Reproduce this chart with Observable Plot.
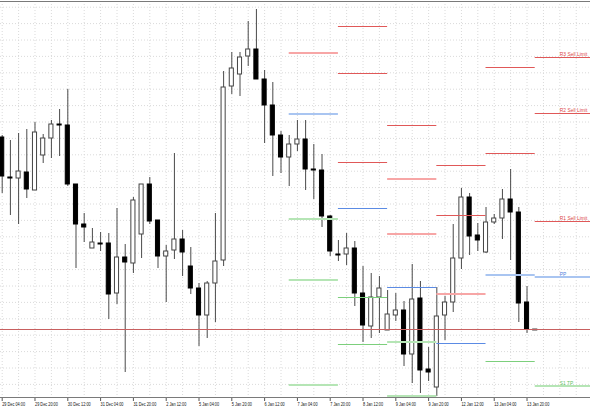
<!DOCTYPE html>
<html>
<head>
<meta charset="utf-8">
<script src="https://cdn.jsdelivr.net/npm/d3@7"></script>
<script src="https://cdn.jsdelivr.net/npm/@observablehq/plot@0.6"></script>
<style>
  html, body { margin: 0; padding: 0; background: #fff; }
  #chart svg { display: block; }
</style>
</head>
<body>
<div id="chart"></div>
<script>
// 4-hour candles, bar 0 = 29 Dec 04:00 … bar 65 = 14 Jan 00:00 (price units are relative)
const open  = [263,223,222,228,210,245,262,276,275,216,176,152,157,157,107,143,137,166,216,180,144,150,161,134,112,85,117,140,314,326,344,351,321,295,265,243,256,261,231,230,184,146,146,152,107,74,103,70,85,90,46,102,31,13,85,98,142,203,165,148,178,182,201,188,98,70];
const high  = [265,260,267,271,278,266,280,291,311,216,187,172,168,167,192,156,203,216,223,180,155,247,170,153,117,119,187,329,348,348,379,391,330,318,269,265,280,280,256,246,185,160,167,159,134,127,124,110,107,99,136,119,53,113,104,176,212,207,177,193,186,211,231,193,114,71];
const low   = [207,185,176,202,210,237,242,244,214,132,158,152,149,81,96,28,127,142,176,132,98,141,124,106,54,62,78,134,306,304,334,321,257,224,227,214,249,210,201,173,144,139,135,94,58,62,67,70,79,34,17,7,19,4,60,88,131,145,149,147,176,161,140,78,67,70];
const close = [224,222,229,211,268,262,276,275,216,176,173,158,156,106,143,138,200,216,179,144,149,161,148,112,85,117,139,313,332,343,351,321,295,265,243,256,261,231,230,184,149,145,152,107,75,103,112,86,90,46,101,30,28,84,98,142,203,164,160,178,182,201,188,97,71,71];
const bidPrice = 71;

// time axis labels, one every 4 bars
const tickLabels = ["29 Dec 04:00","29 Dec 20:00","30 Dec 12:00","31 Dec 04:00","31 Dec 20:00","2 Jan 12:00","5 Jan 04:00","5 Jan 20:00","6 Jan 12:00","7 Jan 04:00","7 Jan 20:00","8 Jan 12:00","9 Jan 04:00","9 Jan 20:00","12 Jan 12:00","13 Jan 04:00","13 Jan 20:00"];

// daily pivot sessions: bar index where each day's levels begin (7,8,9,12,13,14 Jan)
const levelDays = [35, 41, 47, 53, 59, 65];
// [day, kind, price]
const dailyLevels = [
  [1,"R",374],[1,"R",327],[1,"R",238],[1,"P",192],[1,"S",103],[1,"S",56],
  [2,"R",275],[2,"P",113],
  [3,"R",235],[3,"R",185],[3,"P",57],
  [4,"R",333],[4,"R",247],[4,"S",39],
  [5,"R",343],[5,"R",287],[5,"R",179]
];
const zoneLevels = [
  [0,"R",347.5],[0,"P",286.5],[0,"S",181.5],[0,"S",120.5],[0,"S",15.5],
  [2,"R",221.5],[2,"R",166.5],[2,"S",58.5],[2,"S",4.5],
  [3,"R",106.5],
  [4,"P",125.5],
  [5,"P",123.5],[5,"S",14.5]
];
const levelLabels = ["R3 Sell Limit","R2 Sell Limit","R1 Sell Limit","PP","S1 TP"];
const labelKinds  = ["R","R","R","P","S"];
const labelPrices = [343, 287, 179, 123.5, 14.5];

// ---------- drawing ----------
const xMin = -0.207, xMax = 71.74;
const thinColor = {R: "#e05858", P: "#5b8be4", S: "#7ccf7c"};
const paleColor = {R: "#f7a6a6", P: "#a9c5f1", S: "#b5e5b5"};
const labelColor = {R: "#dc4848", P: "#4f7fdc", S: "#66c266"};

const bars = open.map((o, i) => ({i, o, h: high[i], l: low[i], c: close[i], up: close[i] >= o}));
const dayEnd = d => (d + 1 < levelDays.length ? levelDays[d + 1] : xMax + 1);
const labels = levelLabels.map((t, k) => ({t, kind: labelKinds[k], p: labelPrices[k]}));
const tickIdx = tickLabels.map((_, k) => k * 4);

const chart = Plot.plot({
  width: 590,
  height: 410,
  marginLeft: 0,
  marginRight: 0,
  marginTop: 1,
  marginBottom: 12,
  x: {domain: [xMin, xMax], axis: null, label: null},
  y: {domain: [2, 399], axis: null, label: null},
  color: {type: "identity"},
  style: {background: "#fff", fontFamily: "'Liberation Sans', Arial, sans-serif"},
  marks: [
    Plot.ruleX(d3.range(0, 72, 2), {stroke: "#dadada", strokeDasharray: "1,2"}),
    Plot.ruleY(d3.range(393.3, 10, -16.4), {stroke: "#dadada", strokeDasharray: "1,2"}),
    Plot.ruleY([399], {stroke: "#7a7a7a"}),
    Plot.ruleX(bars, {x: "i", y1: "l", y2: "h", stroke: "#4a4a4a"}),
    Plot.rect(bars, {
      x1: d => d.i - 0.25, x2: d => d.i + 0.25,
      y1: d => Math.min(d.o, d.c), y2: d => Math.max(d.o, d.c),
      fill: d => d.up ? "#ffffff" : "#000000",
      stroke: d => d.up ? "#444444" : "#000000",
      strokeWidth: 1
    }),
    Plot.ruleY(zoneLevels, {y: d => d[2], x1: d => levelDays[d[0]], x2: d => dayEnd(d[0]), stroke: d => paleColor[d[1]], strokeWidth: 2}),
    Plot.ruleY(dailyLevels, {y: d => d[2], x1: d => levelDays[d[0]], x2: d => dayEnd(d[0]), stroke: d => thinColor[d[1]], strokeWidth: 1}),
    Plot.ruleY([bidPrice], {stroke: "#c86060"}),
    Plot.text(labels, {
      x: levelDays[5] + 3, y: "p", text: "t", fill: d => labelColor[d.kind],
      textAnchor: "start", lineAnchor: "bottom", dy: -1.5, fontSize: 4.9
    }),
    Plot.ruleY([3], {stroke: "#7a7a7a"}),
    Plot.axisX(tickIdx, {
      anchor: "bottom", tickSize: 3, tickPadding: 1, stroke: "#555", label: null,
      tickFormat: d => tickLabels[d / 4], textAnchor: "start", dx: 0,
      fontSize: 5.5, fill: "#111"
    })
  ]
});
document.getElementById("chart").appendChild(chart);

// condense the small MetaTrader-style time labels horizontally (kept as real text)
chart.querySelectorAll('g[aria-label="x-axis tick label"] text').forEach(t => {
  const w = t.getComputedTextLength();
  if (w > 0) {
    t.setAttribute("textLength", (w * 0.7).toFixed(2));
    t.setAttribute("lengthAdjust", "spacingAndGlyphs");
  }
});
</script>
</body>
</html>
